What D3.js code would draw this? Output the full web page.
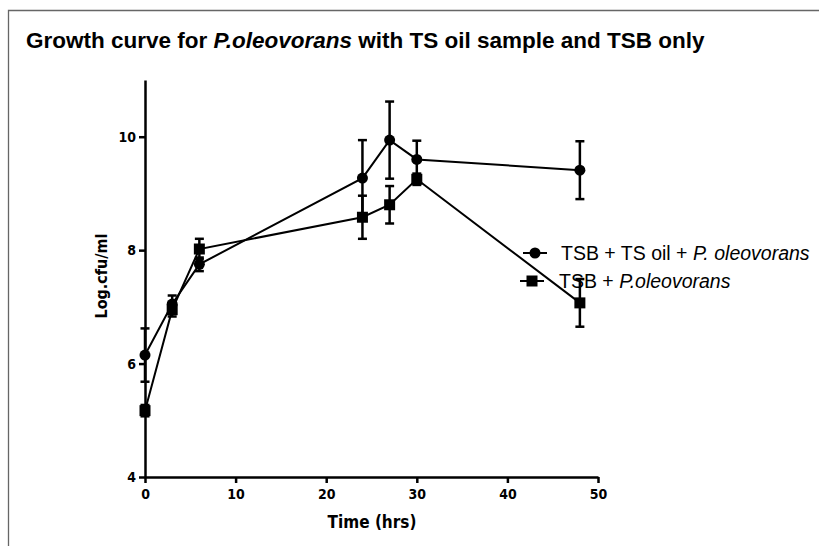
<!DOCTYPE html>
<html>
<head>
<meta charset="utf-8">
<script src="https://cdn.jsdelivr.net/npm/d3@7"></script>
<style>
  body { margin: 0; background: #fff; }
  svg { display: block; }
  .axis path, .axis line { stroke: #000; stroke-width: 2.5; }
  .axis text { font-family: "DejaVu Sans Condensed", "DejaVu Sans", sans-serif; font-weight: bold; font-size: 14px; fill: #000; }
</style>
</head>
<body>
<svg id="chart" width="819" height="546"></svg>
<script>
var times = [0, 3, 6, 24, 27, 30, 48];
var oilMean = [6.15, 7.05, 7.75, 9.27, 9.94, 9.6, 9.41];
var oilErr = [0.47, 0.15, 0.12, 0.67, 0.68, 0.33, 0.51];
var tsbMean = [5.17, 6.95, 8.02, 8.58, 8.8, 9.25, 7.07];
var tsbErr = [0.1, 0.12, 0.18, 0.38, 0.33, 0.1, 0.42];
var xTicks = [0, 10, 20, 30, 40, 50];
var yTicks = [4, 6, 8, 10];

var svg = d3.select("#chart");

// frame
svg.append("path")
    .attr("d", "M8.5,546 V10.5 H819")
    .attr("fill", "none")
    .attr("stroke", "#666")
    .attr("stroke-width", 1.3);

svg.append("text")
    .attr("x", 26)
    .attr("y", 48)
    .style("font-family", "Liberation Sans, Arial, sans-serif")
    .style("font-weight", "bold")
    .style("font-size", "22.5px")
    .html('Growth curve for <tspan font-style="italic">P.oleovorans</tspan> with TS oil sample and TSB only');

var x = d3.scaleLinear().domain([0, 50]).range([145, 598]);
var y = d3.scaleLinear().domain([4, 11]).range([477, 80]);

svg.append("g")
    .attr("class", "axis")
    .attr("transform", "translate(0,477)")
    .call(d3.axisBottom(x).tickValues(xTicks).tickFormat(d3.format("d")).tickSize(6).tickSizeOuter(0).tickPadding(6));

svg.append("g")
    .attr("class", "axis")
    .attr("transform", "translate(145,0)")
    .call(d3.axisLeft(y).tickValues(yTicks).tickFormat(d3.format("d")).tickSize(6).tickSizeOuter(0).tickPadding(3));

svg.append("text")
    .attr("x", 372)
    .attr("y", 528)
    .attr("text-anchor", "middle")
    .style("font-family", "DejaVu Sans Condensed, DejaVu Sans, sans-serif")
    .style("font-weight", "bold")
    .style("font-size", "17px")
    .text("Time (hrs)");

svg.append("text")
    .attr("transform", "translate(107,276) rotate(-90)")
    .attr("text-anchor", "middle")
    .style("font-family", "DejaVu Sans Condensed, DejaVu Sans, sans-serif")
    .style("font-weight", "bold")
    .style("font-size", "16px")
    .text("Log.cfu/ml");

var line = d3.line().x(function (d) { return x(d[0]); }).y(function (d) { return y(d[1]); });

function drawSeries(means, errs, shape) {
    var pts = times.map(function (t, i) { return [t, means[i], errs[i]]; });
    var g = svg.append("g");
    g.append("path")
        .attr("d", line(pts))
        .attr("fill", "none")
        .attr("stroke", "#000")
        .attr("stroke-width", 2);
    pts.forEach(function (p) {
        var cx = x(p[0]);
        var top = y(p[1] + p[2]), bot = y(p[1] - p[2]);
        g.append("line").attr("x1", cx).attr("x2", cx).attr("y1", top).attr("y2", bot)
            .attr("stroke", "#000").attr("stroke-width", 2.5);
        [top, bot].forEach(function (yy) {
            g.append("line").attr("x1", cx - 4.5).attr("x2", cx + 4.5).attr("y1", yy).attr("y2", yy)
                .attr("stroke", "#000").attr("stroke-width", 2.5);
        });
        if (shape === "circle") {
            g.append("circle").attr("cx", cx).attr("cy", y(p[1])).attr("r", 5.5).attr("fill", "#000");
        } else {
            g.append("rect").attr("x", cx - 5.5).attr("y", y(p[1]) - 5.5).attr("width", 11).attr("height", 11).attr("fill", "#000");
        }
    });
}

drawSeries(oilMean, oilErr, "circle");
drawSeries(tsbMean, tsbErr, "square");

// legend
var legend = [
    { shape: "circle", y: 253, lx: 535, tx: 561, parts: ["TSB + TS oil + ", "P. oleovorans"] },
    { shape: "square", y: 281, lx: 532, tx: 559, parts: ["TSB + ", "P.oleovorans"] }
];
legend.forEach(function (l) {
    svg.append("line").attr("x1", l.lx - 12).attr("x2", l.lx + 12).attr("y1", l.y).attr("y2", l.y)
        .attr("stroke", "#000").attr("stroke-width", 2);
    if (l.shape === "circle") {
        svg.append("circle").attr("cx", l.lx).attr("cy", l.y).attr("r", 5.5).attr("fill", "#000");
    } else {
        svg.append("rect").attr("x", l.lx - 5.5).attr("y", l.y - 5.5).attr("width", 11).attr("height", 11).attr("fill", "#000");
    }
    var t = svg.append("text").attr("x", l.tx).attr("y", l.y + 7)
        .style("font-family", "Liberation Sans, Arial, sans-serif")
        .style("font-size", "19.5px");
    t.append("tspan").text(l.parts[0]);
    t.append("tspan").attr("font-style", "italic").text(l.parts[1]);
});
</script>
</body>
</html>
